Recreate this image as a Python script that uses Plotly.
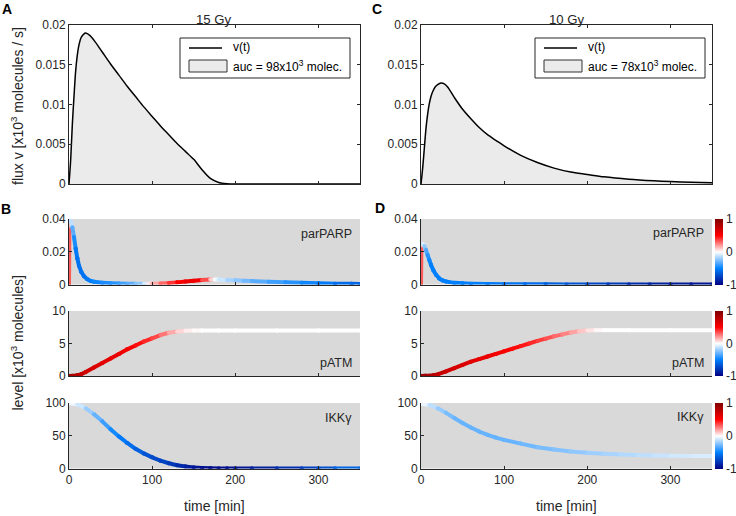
import plotly.graph_objects as go
from plotly.colors import sample_colorscale

# ---------------- data ----------------
X_TICKS = [0, 100, 200, 300]

# flux v(t), 15 Gy
T_FLUX15 = [0, 2, 4, 6, 8, 10, 12, 15, 20, 25, 30, 40, 50, 60, 70, 80, 90, 100, 110, 120,
            130, 140, 150, 160, 170, 180, 190, 200, 250, 300, 350]
V_FLUX15 = [0, 0.003, 0.0075, 0.011, 0.0142, 0.0162, 0.0175, 0.0185, 0.019, 0.0187, 0.0181,
            0.0166, 0.0151, 0.0137, 0.0123, 0.011, 0.0097, 0.0085, 0.0073, 0.0062,
            0.0051, 0.0041, 0.0031, 0.0018, 0.0007, 0.0002, 0.00004, 0, 0, 0, 0]
# flux v(t), 10 Gy
T_FLUX10 = [0, 2, 4, 6, 8, 10, 12, 14, 17, 20, 24, 28, 32, 40, 50, 60, 70, 80, 90, 100, 120,
            140, 160, 180, 200, 220, 250, 280, 300, 325, 350]
V_FLUX10 = [0, 0.002, 0.0045, 0.007, 0.0088, 0.0101, 0.011, 0.0116, 0.0122, 0.0125, 0.0127,
            0.0126, 0.0122, 0.0109, 0.0094, 0.0082, 0.0071, 0.0062, 0.0055, 0.0048, 0.0036,
            0.0027, 0.002, 0.0015, 0.0012, 0.0009, 0.0006, 0.0004, 0.0003, 0.00022, 0.00016]

# parPARP, 15 Gy (value, colour = scaled rate of change)
T_PARP15 = [0, 0.5, 2, 4, 6, 8, 10, 12, 15, 18, 22, 26, 30, 40, 50, 60, 70, 80, 90, 95,
            100, 110, 120, 130, 140, 150, 160, 170, 175, 180, 190, 200, 210, 220, 240, 260,
            280, 300, 320, 340, 350]
V_PARP15 = [0, 0.036, 0.039, 0.035, 0.029, 0.022, 0.016, 0.0115, 0.0075, 0.005,
            0.0032, 0.0022, 0.0017, 0.0011, 0.0008, 0.0006, 0.0005, 0.0004, 0.0003, 0.0003,
            0.0004, 0.0006, 0.0009, 0.0013, 0.0018, 0.0023, 0.0027, 0.003, 0.003, 0.003,
            0.0028, 0.0026, 0.0023, 0.0021, 0.0017, 0.0013, 0.001, 0.0007, 0.0005, 0.0004,
            0.0003]
C_PARP15 = [0.35, 0.3, 0.0, -0.25, -0.4, -0.5, -0.55, -0.55, -0.55, -0.55,
            -0.55, -0.5, -0.5, -0.45, -0.45, -0.4, -0.35, -0.3, -0.15, 0.0,
            0.1, 0.25, 0.35, 0.45, 0.55, 0.6, 0.5, 0.2, 0.0, -0.05,
            -0.15, -0.2, -0.25, -0.3, -0.35, -0.4, -0.45, -0.5, -0.55, -0.6, -0.6]

# parPARP, 10 Gy
T_PARP10 = [0, 0.5, 2, 4, 6, 8, 10, 12, 15, 18, 22, 26, 30, 40, 50, 60, 80, 100, 125, 150,
            175, 200, 225, 250, 275, 300, 325, 350]
V_PARP10 = [0, 0.024, 0.025, 0.0235, 0.021, 0.018, 0.015, 0.012, 0.0085, 0.006,
            0.0037, 0.0025, 0.0018, 0.001, 0.0007, 0.0005, 0.0003, 0.0002, 0.00015, 0.0001,
            0.00007, 0.00005, 0.00004, 0.00003, 0.00002, 0.00002, 0.00001, 0.00001]
C_PARP10 = [0.35, 0.3, 0.0, -0.15, -0.3, -0.4, -0.45, -0.5, -0.5, -0.5,
            -0.5, -0.5, -0.5, -0.5, -0.5, -0.5, -0.5, -0.55, -0.55, -0.6,
            -0.65, -0.7, -0.75, -0.8, -0.85, -0.88, -0.9, -0.92]

# pATM, 15 Gy
T_ATM15 = [0, 5, 10, 15, 20, 30, 40, 50, 60, 70, 80, 90, 100, 110, 120, 130, 140, 150, 160,
           180, 200, 250, 300, 350]
V_ATM15 = [0, 0.02, 0.1, 0.3, 0.6, 1.3, 2.0, 2.7, 3.4, 4.1, 4.7, 5.3, 5.8, 6.3, 6.65, 6.85,
           6.95, 7.0, 7.0, 7.0, 7.0, 7.0, 7.0, 7.0]
C_ATM15 = [0.9, 0.85, 0.8, 0.75, 0.7, 0.65, 0.62, 0.6, 0.57, 0.55, 0.5, 0.45, 0.4, 0.32,
           0.22, 0.12, 0.05, 0.02, 0.0, 0.0, 0.0, 0.0, 0.0, 0.0]

# pATM, 10 Gy
T_ATM10 = [0, 5, 10, 15, 20, 30, 40, 50, 60, 70, 80, 90, 100, 110, 120, 130, 140, 150, 160,
           170, 180, 190, 200, 210, 220, 250, 300, 350]
V_ATM10 = [0, 0.02, 0.05, 0.12, 0.25, 0.7, 1.2, 1.7, 2.2, 2.6, 3.0, 3.4, 3.8, 4.2, 4.6, 5.0,
           5.4, 5.75, 6.1, 6.4, 6.7, 6.9, 7.0, 7.05, 7.05, 7.05, 7.05, 7.05]
C_ATM10 = [0.9, 0.88, 0.85, 0.8, 0.75, 0.7, 0.67, 0.65, 0.62, 0.6, 0.58, 0.55, 0.52, 0.5,
           0.47, 0.44, 0.4, 0.36, 0.32, 0.27, 0.22, 0.15, 0.08, 0.03, 0.0, 0.0, 0.0, 0.0]

# IKKgamma, 15 Gy
T_IKK15 = [0, 10, 20, 30, 40, 50, 60, 70, 80, 90, 100, 110, 120, 130, 140, 150, 160, 170,
           180, 190, 200, 220, 250, 280, 300, 320, 350]
V_IKK15 = [100, 98, 92, 83, 72, 60, 49, 39, 30, 23, 17, 12, 8, 5, 3, 1.5, 0.7, 0.3,
           0.1, 0.05, 0, 0, 0, 0, 0, 0, 0]
C_IKK15 = [0, -0.05, -0.15, -0.25, -0.35, -0.42, -0.5, -0.55, -0.6, -0.65,
           -0.7, -0.72, -0.75, -0.8, -0.85, -0.9, -0.93, -0.95, -0.95, -0.95,
           -0.93, -0.9, -0.85, -0.78, -0.72, -0.65, -0.55]

# IKKgamma, 10 Gy
T_IKK10 = [0, 10, 20, 30, 40, 50, 60, 70, 80, 90, 100, 120, 140, 160, 180, 200, 220, 240,
           260, 280, 300, 325, 350]
V_IKK10 = [99, 97, 92, 85, 77, 69.5, 62.5, 56.5, 51.5, 47.2, 43.7, 38, 32.5, 29, 26, 24,
           22.5, 21.4, 20.6, 20, 19.6, 19.2, 19]
C_IKK10 = [0, -0.08, -0.18, -0.24, -0.28, -0.3, -0.3, -0.3, -0.3, -0.3, -0.3, -0.29, -0.27,
           -0.25, -0.23, -0.2, -0.18, -0.16, -0.14, -0.12, -0.1, -0.08, -0.07]

LEGEND_LINE = "v(t)"
AUC15 = "auc = 98x10<sup>3</sup> molec."
AUC10 = "auc = 78x10<sup>3</sup> molec."

# ---------------- styling ----------------
FONT = "Liberation Sans, Arial, Helvetica, sans-serif"
AXC = "#262626"
PANEL_BG = "#d9d9d9"
FILL = "#ebebeb"
CSCALE = [[0.0, "rgb(0,0,128)"], [0.25, "rgb(0,128,255)"], [0.5, "rgb(255,255,255)"],
          [0.75, "rgb(255,0,0)"], [1.0, "rgb(128,0,0)"]]

W, H = 736, 516


def px_x(p):
    return p / W


def px_y(p):
    return 1 - p / H


XL = [px_x(69), px_x(360)]
XR = [px_x(421), px_x(712)]
Y_TOP = [px_y(184), px_y(25)]
Y_PARP = [px_y(284.5), px_y(219)]
Y_ATM = [px_y(376), px_y(311)]
Y_IKK = [px_y(468.5), px_y(403)]

fig = go.Figure()


def add_flux(t, v, xa, ya):
    fig.add_trace(go.Scatter(x=t, y=v, mode="lines", fill="tozeroy", fillcolor=FILL,
                             line=dict(color="#000000", width=1.5, shape="spline", smoothing=0.8),
                             showlegend=False, xaxis=xa, yaxis=ya, hoverinfo="skip"))


def add_gradient(t, v, c, xa, ya):
    for i in range(len(t) - 1):
        pos = (c[i] + c[i + 1]) / 4 + 0.5
        col = sample_colorscale(CSCALE, [pos])[0]
        fig.add_trace(go.Scatter(x=[t[i], t[i + 1]], y=[v[i], v[i + 1]], mode="lines+markers",
                                 line=dict(color=col, width=4),
                                 marker=dict(color=col, size=4, line=dict(width=0)),
                                 showlegend=False, hoverinfo="skip", xaxis=xa, yaxis=ya))


add_flux(T_FLUX15, V_FLUX15, "x", "y")
add_flux(T_FLUX10, V_FLUX10, "x2", "y2")

add_gradient(T_PARP15, V_PARP15, C_PARP15, "x3", "y3")
add_gradient(T_PARP10, V_PARP10, C_PARP10, "x4", "y4")
add_gradient(T_ATM15, V_ATM15, C_ATM15, "x5", "y5")
add_gradient(T_ATM10, V_ATM10, C_ATM10, "x6", "y6")
add_gradient(T_IKK15, V_IKK15, C_IKK15, "x7", "y7")
add_gradient(T_IKK10, V_IKK10, C_IKK10, "x8", "y8")

# invisible traces that carry the colour bars of the right column
for xa, ya, cax, t, v in [("x4", "y4", "coloraxis", T_PARP10, V_PARP10),
                          ("x6", "y6", "coloraxis2", T_ATM10, V_ATM10),
                          ("x8", "y8", "coloraxis3", T_IKK10, V_IKK10)]:
    fig.add_trace(go.Scatter(x=[t[-1]], y=[v[-1]], mode="markers",
                             marker=dict(color=[0], coloraxis=cax, size=1, opacity=0),
                             showlegend=False, hoverinfo="skip", xaxis=xa, yaxis=ya))

tickfont = dict(family=FONT, size=12, color=AXC)


def xaxis(domain, anchor, labels, mirror):
    return dict(domain=domain, anchor=anchor, range=[0, 350], tickvals=X_TICKS,
                ticktext=[str(v) for v in X_TICKS], showticklabels=labels,
                ticks="inside", ticklen=3, tickcolor=AXC, tickwidth=1,
                showline=True, linecolor=AXC, linewidth=1, mirror=mirror,
                showgrid=False, zeroline=False, tickfont=tickfont, fixedrange=True)


def yaxis(domain, anchor, rng, vals, texts, mirror):
    return dict(domain=domain, anchor=anchor, range=rng, tickvals=vals, ticktext=texts,
                ticks="inside", ticklen=3, tickcolor=AXC, tickwidth=1,
                showline=True, linecolor=AXC, linewidth=1, mirror=mirror,
                showgrid=False, zeroline=False, tickfont=tickfont, fixedrange=True)


FLUX_T = [0, 0.005, 0.01, 0.015, 0.02]
FLUX_L = ["0", "0.005", "0.01", "0.015", "0.02"]
PARP_T, PARP_L = [0, 0.02, 0.04], ["0", "0.02", "0.04"]
ATM_T, ATM_L = [0, 5, 10], ["0", "5", "10"]
IKK_T, IKK_L = [0, 50, 100], ["0", "50", "100"]

layout = dict(
    width=W, height=H,
    margin=dict(l=0, r=0, t=0, b=0, pad=0, autoexpand=False),
    paper_bgcolor="white", plot_bgcolor="white",
    font=dict(family=FONT, size=12, color=AXC),
    xaxis=xaxis(XL, "y", False, "ticks"),
    yaxis=yaxis(Y_TOP, "x", [0, 0.02], FLUX_T, FLUX_L, "ticks"),
    xaxis2=xaxis(XR, "y2", False, "ticks"),
    yaxis2=yaxis(Y_TOP, "x2", [0, 0.02], FLUX_T, FLUX_L, "ticks"),
    xaxis3=xaxis(XL, "y3", False, False),
    yaxis3=yaxis(Y_PARP, "x3", [0, 0.04], PARP_T, PARP_L, False),
    xaxis4=xaxis(XR, "y4", False, False),
    yaxis4=yaxis(Y_PARP, "x4", [0, 0.04], PARP_T, PARP_L, False),
    xaxis5=xaxis(XL, "y5", False, False),
    yaxis5=yaxis(Y_ATM, "x5", [0, 10], ATM_T, ATM_L, False),
    xaxis6=xaxis(XR, "y6", False, False),
    yaxis6=yaxis(Y_ATM, "x6", [0, 10], ATM_T, ATM_L, False),
    xaxis7=xaxis(XL, "y7", True, False),
    yaxis7=yaxis(Y_IKK, "x7", [0, 100], IKK_T, IKK_L, False),
    xaxis8=xaxis(XR, "y8", True, False),
    yaxis8=yaxis(Y_IKK, "x8", [0, 100], IKK_T, IKK_L, False),
    showlegend=False,
)


def cbar(ymid_px, len_px):
    return dict(colorscale=CSCALE, cmin=-1, cmax=1, showscale=True,
                colorbar=dict(x=px_x(715), xanchor="left", thickness=8, thicknessmode="pixels",
                              len=len_px / H, lenmode="fraction", y=px_y(ymid_px), yanchor="middle",
                              ypad=0, xpad=0, outlinewidth=0,
                              tickvals=[-1, 0, 1], ticktext=["-1", "0", "1"], ticks="",
                              tickfont=dict(family=FONT, size=12, color=AXC)))


layout["coloraxis"] = cbar(251.75, 65.5)
layout["coloraxis2"] = cbar(343.5, 65)
layout["coloraxis3"] = cbar(435.75, 65.5)

# grey backgrounds of the lower panels
shapes = []
for k in range(3, 9):
    shapes.append(dict(type="rect", xref=f"x{k} domain", yref=f"y{k} domain",
                       x0=0, x1=1, y0=0, y1=1, fillcolor=PANEL_BG, line=dict(width=0),
                       layer="below"))

ann = []


def text(x, y, s, size=12, bold=False, angle=0, xanchor="center", xref="paper", yref="paper",
         yanchor="middle", color=AXC):
    ann.append(dict(x=x, y=y, xref=xref, yref=yref, text=(f"<b>{s}</b>" if bold else s),
                    showarrow=False, xanchor=xanchor, yanchor=yanchor, textangle=angle,
                    font=dict(family=FONT, size=size, color=color)))


# MATLAB-style legend boxes (box, line sample, patch sample, labels)
def legend_box(left, top, auc_text):
    shapes.append(dict(type="rect", xref="paper", yref="paper",
                       x0=px_x(left), x1=px_x(left + 170), y0=px_y(top + 40), y1=px_y(top),
                       fillcolor="white", line=dict(color=AXC, width=1), layer="above"))
    shapes.append(dict(type="line", xref="paper", yref="paper",
                       x0=px_x(left + 9), x1=px_x(left + 42), y0=px_y(top + 10), y1=px_y(top + 10),
                       line=dict(color="#000000", width=1.5), layer="above"))
    shapes.append(dict(type="rect", xref="paper", yref="paper",
                       x0=px_x(left + 9), x1=px_x(left + 47), y0=px_y(top + 34), y1=px_y(top + 22),
                       fillcolor=FILL, line=dict(color="#333333", width=1), layer="above"))
    text(px_x(left + 51), px_y(top + 9.5), LEGEND_LINE, size=12, xanchor="left", color="#000000")
    text(px_x(left + 51), px_y(top + 28), auc_text, size=12, xanchor="left", color="#000000")


legend_box(180, 38, AUC15)
legend_box(535, 38, AUC10)

text(px_x(214.5), px_y(20), "15 Gy", size=13.2)
text(px_x(566.5), px_y(20), "10 Gy", size=13.2)
text(px_x(7), px_y(9), "A", size=14, bold=True, color="#000000")
text(px_x(6), px_y(209), "B", size=14, bold=True, color="#000000")
text(px_x(377), px_y(9), "C", size=14, bold=True, color="#000000")
text(px_x(380), px_y(208), "D", size=14, bold=True, color="#000000")
text(px_x(17), px_y(106), "flux v [x10<sup>3</sup> molecules / s]", size=14, angle=-90)
text(px_x(17), px_y(343.5), "level [x10<sup>3</sup> molecules]", size=14, angle=-90)
text(px_x(214.5), px_y(506), "time [min]", size=14)
text(px_x(566.5), px_y(506), "time [min]", size=14)

for k, lab, yy in [(3, "parPARP", 0.77), (4, "parPARP", 0.79), (5, "pATM", 0.2), (6, "pATM", 0.2),
                   (7, "IKKγ", 0.77), (8, "IKKγ", 0.78)]:
    text(0.98, yy, lab, size=12.5, xanchor="right", xref=f"x{k} domain", yref=f"y{k} domain")

layout["shapes"] = shapes
layout["annotations"] = ann
fig.update_layout(**layout)

fig.write_html("out.html", config={"displayModeBar": False},
               post_script="document.body.style.margin='0px';document.body.style.overflow='hidden';")
